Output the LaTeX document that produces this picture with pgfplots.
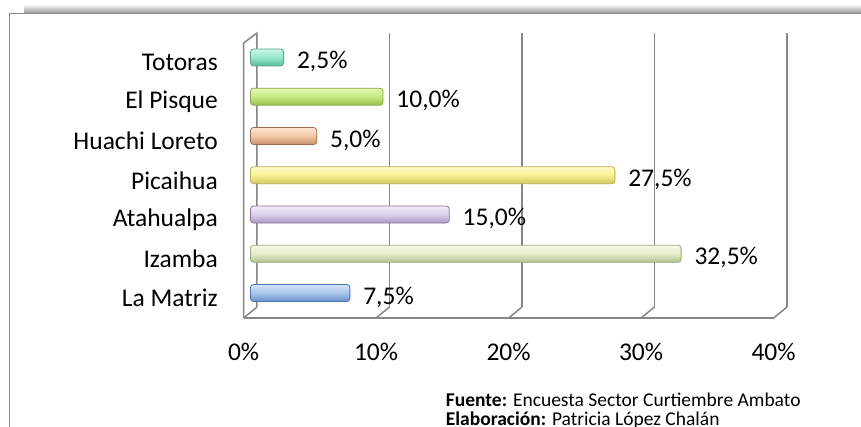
\documentclass[border=0pt]{standalone}
\usepackage{pgfplots}
\pgfplotsset{compat=1.18}
\usepackage{fontspec}
\setmainfont{Carlito}
\definecolor{gridc}{HTML}{868686}
\definecolor{frc}{HTML}{8A8A8A}
% bar colours: light / mid / dark / outline
\definecolor{toL}{HTML}{C8F8E8}\definecolor{toM}{HTML}{92E8CA}\definecolor{toD}{HTML}{5AB898}\definecolor{toO}{HTML}{60A888}
\definecolor{epL}{HTML}{E8F8B4}\definecolor{epM}{HTML}{C4E880}\definecolor{epD}{HTML}{98C050}\definecolor{epO}{HTML}{88A848}
\definecolor{hlL}{HTML}{FCE6D4}\definecolor{hlM}{HTML}{F4C6A2}\definecolor{hlD}{HTML}{C89070}\definecolor{hlO}{HTML}{A07050}
\definecolor{piL}{HTML}{FFFCC8}\definecolor{piM}{HTML}{F8F092}\definecolor{piD}{HTML}{D0C860}\definecolor{piO}{HTML}{B8B050}
\definecolor{atL}{HTML}{F2ECF8}\definecolor{atM}{HTML}{DCD0EC}\definecolor{atD}{HTML}{A898C0}\definecolor{atO}{HTML}{8878A0}
\definecolor{izL}{HTML}{F6FAE8}\definecolor{izM}{HTML}{E4ECC8}\definecolor{izD}{HTML}{B0C090}\definecolor{izO}{HTML}{98A878}
\definecolor{lmL}{HTML}{D4E4F8}\definecolor{lmM}{HTML}{A8C4EC}\definecolor{lmD}{HTML}{6890C8}\definecolor{lmO}{HTML}{5078B0}
\pgfplotsset{
  cyl/.style n args={4}{xbar, bar shift=0pt, bar width=17pt, draw=#4, line width=0.8pt,
     top color=#1, bottom color=#3, middle color=#2, rounded corners=3pt,
     nodes near coords={\pgfmathprintnumber[fixed,fixed zerofill,precision=1,use comma,assume math mode=true]{\pgfplotspointmeta}\%},
     point meta=x,
     nodes near coords style={anchor=west, inner sep=0pt, xshift=13pt, yshift=-4pt, text=black,
        font=\fontsize{25.5}{30}\selectfont}},
}
\begin{document}
\begin{tikzpicture}
\useasboundingbox (0,0) rectangle (861pt,426pt);
\clip (0,0) rectangle (861pt,426pt);
% outer frame with shadow
\shade[top color=white, bottom color=black!40] (24pt,413pt) rectangle (862pt,422pt);
\draw[frc, line width=1.6pt] (9.3pt,-2pt) -- (9.3pt,412.5pt) -- (862pt,412.5pt);
\begin{axis}[
  at={(250.5pt,93.75pt)}, anchor=south west,
  x=13.25pt, y=39.25pt,
  xmin=0, xmax=40, ymin=0, ymax=8,
  clip=false,
  axis line style={draw=none},
  major tick length=0pt,
  xtick={0,10,20,30,40},
  xticklabels={0\%,10\%,20\%,30\%,40\%},
  ytick={1,2,3,4,5,6,7},
  yticklabels={La Matriz,Izamba,Atahualpa,Picaihua,Huachi Loreto,El Pisque,Totoras},
  tick label style={font=\fontsize{25.5}{30}\selectfont, text=black},
  xticklabel style={anchor=center, inner sep=0pt, yshift=-19.75pt, xshift=-6.9pt},
  yticklabel style={anchor=east, inner sep=0pt, xshift=-32.5pt, yshift=-5pt},
]
% walls and floor
\draw[gridc, line width=1.5pt] (axis cs:-0.52,0.363) -- (axis cs:39.48,0.363);
\draw[gridc, line width=1.5pt] (axis cs:-0.52,0.363) -- (axis cs:0.49,0.643);
\draw[gridc, line width=1.5pt] (axis cs:9.48,0.363) -- (axis cs:10.49,0.643);
\draw[gridc, line width=1.5pt] (axis cs:19.48,0.363) -- (axis cs:20.49,0.643);
\draw[gridc, line width=1.5pt] (axis cs:29.48,0.363) -- (axis cs:30.49,0.643);
\draw[gridc, line width=1.5pt] (axis cs:39.48,0.363) -- (axis cs:40.49,0.643);
\draw[gridc, line width=1.5pt] (axis cs:10.49,0.643) -- (axis cs:10.49,7.624);
\draw[gridc, line width=1.5pt] (axis cs:20.49,0.643) -- (axis cs:20.49,7.624);
\draw[gridc, line width=1.5pt] (axis cs:30.49,0.643) -- (axis cs:30.49,7.624);
\draw[gridc, line width=1.5pt] (axis cs:40.49,0.643) -- (axis cs:40.49,7.624);
\draw[gridc, line width=1.5pt] (axis cs:-0.52,0.363) -- (axis cs:-0.52,7.37) -- (axis cs:0.49,7.624) -- (axis cs:0.49,0.643);
% bars
\addplot[cyl={lmL}{lmM}{lmD}{lmO}] coordinates {(7.5,1)};
\addplot[cyl={izL}{izM}{izD}{izO}] coordinates {(32.5,2)};
\addplot[cyl={atL}{atM}{atD}{atO}] coordinates {(15.0,3)};
\addplot[cyl={piL}{piM}{piD}{piO}] coordinates {(27.5,4)};
\addplot[cyl={hlL}{hlM}{hlD}{hlO}] coordinates {(5.0,5)};
\addplot[cyl={epL}{epM}{epD}{epO}] coordinates {(10.0,6)};
\addplot[cyl={toL}{toM}{toD}{toO}] coordinates {(2.5,7)};
\end{axis}
% source note
\node[anchor=west, inner sep=0pt, font=\fontsize{19.5}{22}\selectfont] at (445.7pt,26pt) {\textbf{Fuente:} Encuesta Sector Curtiembre Ambato};
\node[anchor=west, inner sep=0pt, font=\fontsize{19.5}{22}\selectfont] at (445.7pt,5.5pt) {\textbf{Elaboración:} Patricia López Chalán};
\end{tikzpicture}
\end{document}
